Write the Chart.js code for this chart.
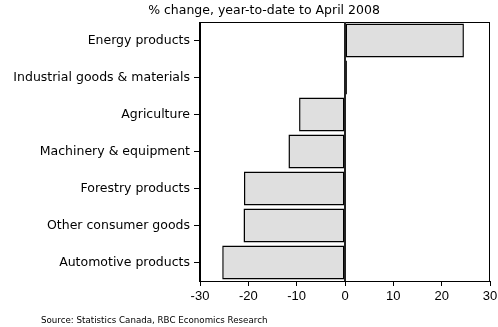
<!DOCTYPE html>
<html>
<head>
<meta charset="utf-8">
<script src="https://cdn.jsdelivr.net/npm/chart.js@4/dist/chart.umd.min.js"></script>
<style>
  html, body { margin: 0; padding: 0; background: #fff; }
  #wrap { position: relative; width: 498px; height: 327px; }
</style>
</head>
<body>
<div id="wrap"><canvas id="chart" width="498" height="327"></canvas></div>
<script>
// Exports by product group, % change year-to-date
const categories = [
    'Energy products',
    'Industrial goods & materials',
    'Agriculture',
    'Machinery & equipment',
    'Forestry products',
    'Other consumer goods',
    'Automotive products'
];
const changes = [24.6, 0.4, -9.5, -11.7, -20.9, -21.0, -25.4];
const xTicks = [-30, -20, -10, 0, 10, 20, 30];

const titleText = '% change, year-to-date to April 2008';
const sourceText = 'Source: Statistics Canada, RBC Economics Research';
const LABEL_FONT = '"DejaVu Sans", sans-serif';
const NUM_FONT = '"Liberation Sans", Arial, sans-serif';

// frame around plot, zero line, title and source note
const decorations = {
    id: 'decorations',
    afterDatasetsDraw(chart) {
        const ctx = chart.ctx;
        const a = chart.chartArea;
        const x0 = chart.scales.x.getPixelForValue(0);
        ctx.save();
        ctx.strokeStyle = '#000';
        ctx.lineWidth = 1;
        ctx.strokeRect(a.left - 0.5, a.top + 0.5, a.right - a.left, a.bottom - a.top);
        ctx.strokeStyle = '#222';
        ctx.lineWidth = 2;
        ctx.beginPath();
        ctx.moveTo(x0, a.top);
        ctx.lineTo(x0, a.bottom);
        ctx.stroke();

        ctx.fillStyle = '#000';
        ctx.font = '12.5px ' + LABEL_FONT;
        ctx.textBaseline = 'middle';
        ctx.textAlign = 'center';
        ctx.fillText(titleText, 264, 11);

        ctx.textAlign = 'left';
        ctx.font = '8.7px ' + LABEL_FONT;
        ctx.fillText(sourceText, 41, 321);
        ctx.restore();
    }
};

new Chart(document.getElementById('chart'), {
    type: 'bar',
    data: {
        labels: categories,
        datasets: [{
            data: changes,
            backgroundColor: '#dfdfdf',
            borderColor: '#000',
            borderWidth: 1.5,
            borderSkipped: false,
            barPercentage: 0.92,
            categoryPercentage: 1
        }]
    },
    options: {
        indexAxis: 'y',
        responsive: false,
        animation: false,
        layout: { padding: { top: 22, right: 8, left: 0, bottom: 0 } },
        plugins: {
            legend: { display: false },
            tooltip: { enabled: false }
        },
        scales: {
            x: {
                min: -30,
                max: 30,
                afterBuildTicks: s => { s.ticks = xTicks.map(v => ({ value: v })); },
                afterFit: s => { s.height = 46; s.paddingLeft = 0; s.paddingRight = 0; },
                grid: { drawOnChartArea: false, drawTicks: true, tickLength: 5, color: '#000' },
                border: { color: '#000' },
                ticks: { color: '#000', font: { family: NUM_FONT, size: 13 }, padding: 3, maxRotation: 0 }
            },
            y: {
                afterFit: s => { s.width = 200; s.paddingTop = 0; s.paddingBottom = 0; },
                grid: { drawOnChartArea: false, drawTicks: true, tickLength: 6, color: '#000', offset: false },
                border: { color: '#000' },
                ticks: { color: '#000', font: { family: LABEL_FONT, size: 12.5 }, padding: 4 }
            }
        }
    },
    plugins: [decorations]
});
</script>
</body>
</html>
